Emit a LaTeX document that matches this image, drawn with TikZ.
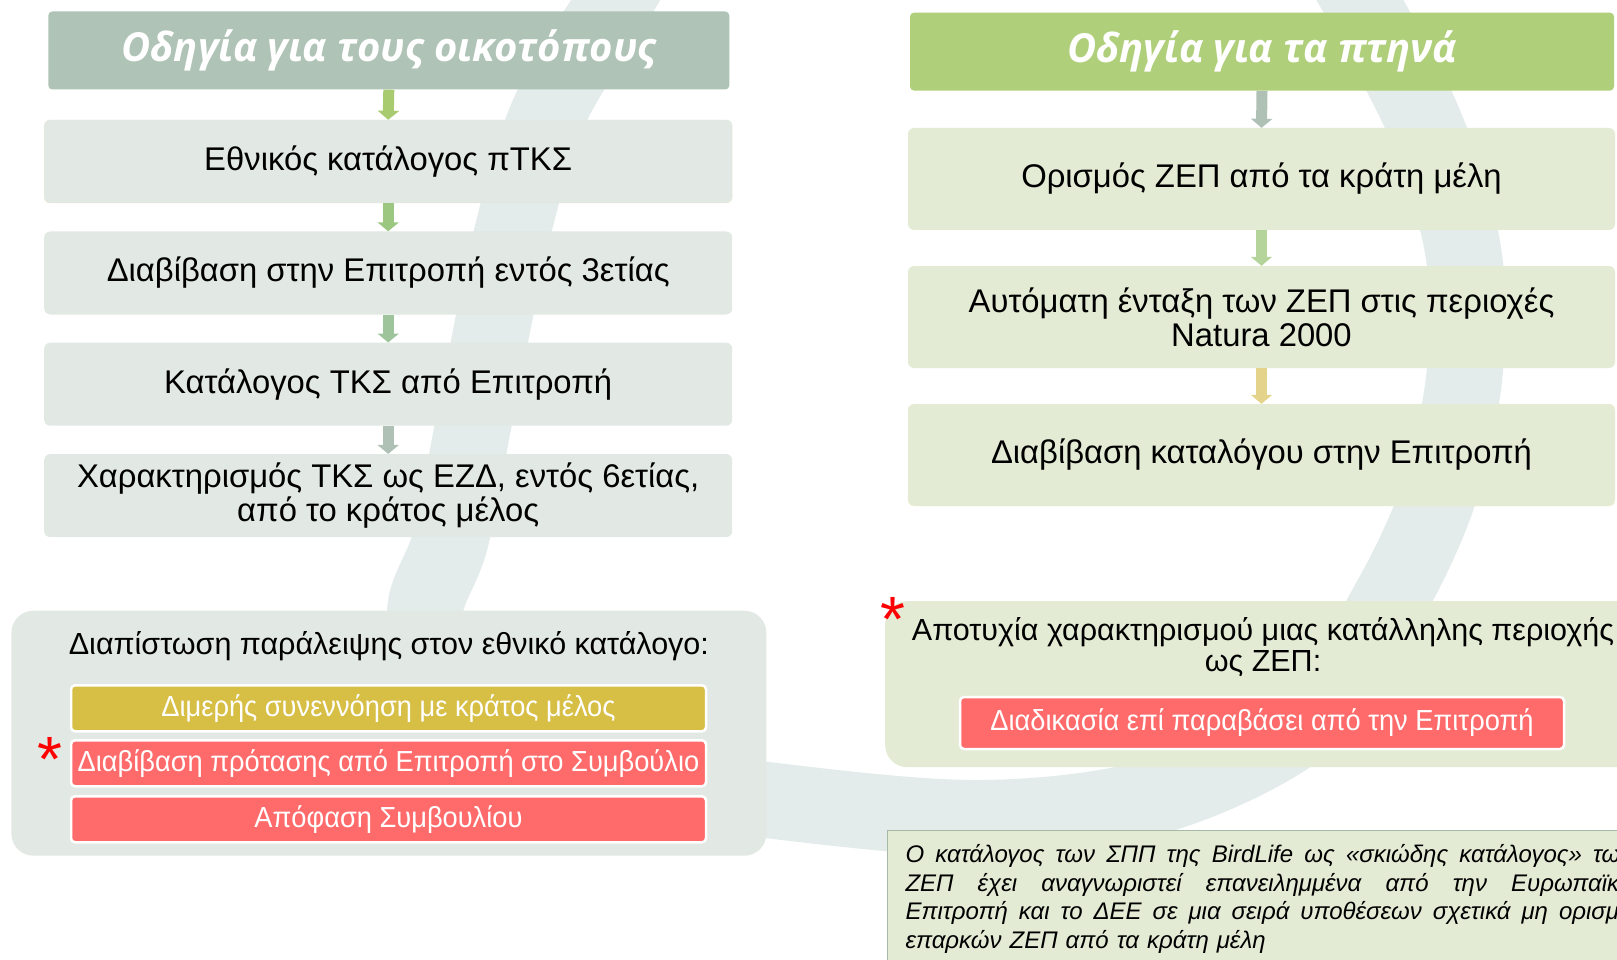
\documentclass[tikz,border=0pt]{standalone}
\usepackage{fontspec}
\setmainfont{Liberation Sans}
\newfontfamily\headfont{Open Sans}
\newfontfamily\barfont[FakeStretch=0.94]{Liberation Sans}
\usepackage{xcolor}
\usepackage{tikz}
\usetikzlibrary{arrows.meta}
\usetikzlibrary{positioning}

\definecolor{ringgrey}{HTML}{E3ECEA}
\definecolor{habtitle}{HTML}{AFC3B6}
\definecolor{habbox}{HTML}{E2E8E3}
\definecolor{birdtitle}{HTML}{B0CF7B}
\definecolor{birdbox}{HTML}{E3EBD5}
\definecolor{baryellow}{HTML}{D7BE45}
\definecolor{barred}{HTML}{FF6B6B}
\definecolor{noteline}{HTML}{A8B8A6}
\definecolor{arrA}{HTML}{A7CB6E}
\definecolor{arrB}{HTML}{9BC780}
\definecolor{arrC}{HTML}{9DC49B}
\definecolor{arrD}{HTML}{AFC0B5}
\definecolor{arrE}{HTML}{B5D49B}
\definecolor{arrF}{HTML}{E4D38A}

\newcommand{\hdsize}{\fontsize{40}{44}\selectfont}
\newcommand{\stepsize}{\fontsize{32.8}{34}\selectfont}
\newcommand{\pansize}{\fontsize{30.5}{31}\selectfont}
\newcommand{\barsz}{\fontsize{29}{32}\selectfont}
\newcommand{\notesz}{\fontsize{24}{28.5}\selectfont}
\newcommand{\starsz}{\fontsize{64}{64}\selectfont}
\newcommand{\noteline}[1]{\makebox[727pt][s]{\spaceskip=0pt\xspaceskip=0pt #1}}

\begin{document}
\begin{tikzpicture}[x=1pt, y=-1pt,
  headbox/.style={rounded corners=4pt, minimum height=78pt, inner sep=0pt, text=white, font=\headfont\bfseries\itshape\hdsize},
  stepbox/.style={rounded corners=6pt, inner sep=0pt, align=center, font=\stepsize},
  panel/.style={rounded corners=22pt, inner sep=0pt},
  bar/.style={draw=white, line width=2.5pt, rounded corners=4pt, inner sep=0pt, minimum height=46pt, text=white, font=\barfont\barsz},
  flow/.style={line width=11pt, -{Triangle[width=21pt,length=9pt]}},
  star/.style={text=red, inner sep=0pt, anchor=base, font=\starsz}]

\useasboundingbox (0,0) rectangle (1617,960);

% background swoosh
\draw [ringgrey, line width=76pt] plot [smooth, tension=0.55] coordinates {(652,-60) (616,0) (550,110) (513,230) (478,400) (451,538) (425,615) (455,700) (565,768) (767,800) (983,818) (1160,795) (1310,720) (1390,600) (1440,490) (1465,370) (1463,250) (1425,125) (1360,0) (1330,-50)};

% habitats

\node [headbox, fill=habtitle, minimum width=681pt] at (388.8, 50.5) (ltitle) {Οδηγία για τους οικοτόπους};
\node [stepbox, fill=habbox, draw=birdbox, minimum width=688pt, minimum height=83pt] at (388.2, 161.5) (lb1) {Εθνικός κατάλογος πΤΚΣ};
\node [stepbox, fill=habbox, minimum width=688pt, minimum height=83pt] at (388.2, 273) (lb2) {Διαβίβαση στην Επιτροπή εντός 3ετίας};
\node [stepbox, fill=habbox, minimum width=688pt, minimum height=83pt] at (388.2, 384.2) (lb3) {Κατάλογος ΤΚΣ από Επιτροπή};
\node [stepbox, fill=habbox, minimum width=688pt, minimum height=83pt] at (388.2, 495.6) (lb4) {Χαρακτηρισμός ΤΚΣ ως ΕΖΔ, εντός 6ετίας,\\ από το κράτος μέλος};

\path [draw, flow, arrA] (ltitle.south) to (lb1.north);
\path [draw, flow, arrB] (lb1.south) to (lb2.north);
\path [draw, flow, arrC] (lb2.south) to (lb3.north);
\path [draw, flow, arrD] (lb3.south) to (lb4.north);

\node [panel, fill=habbox, minimum width=755pt, minimum height=245pt] at (388.9, 733.2) (lpanel) {};
\node [font=\pansize] at (388.9, 646) (lomit) {Διαπίστωση παράλειψης στον εθνικό κατάλογο:};
\node [bar, fill=baryellow, minimum width=635pt] at (388.5, 708.3) (lbar1) {Διμερής συνεννόηση με κράτος μέλος};
\node [bar, fill=barred, minimum width=635pt] at (388.5, 763.3) (lbar2) {Διαβίβαση πρότασης από Επιτροπή στο Συμβούλιο};
\node [bar, fill=barred, minimum width=635pt] at (388.5, 819.3) (lbar3) {Απόφαση Συμβουλίου};
\node [star] at (50, 781) (lstar) {*};

% birds

\node [headbox, fill=birdtitle, minimum width=704pt] at (1262, 51.6) (rtitle) {Οδηγία για τα πτηνά};
\node [stepbox, fill=birdbox, minimum width=707pt, minimum height=102pt] at (1261.5, 179) (rb1) {Ορισμός ΖΕΠ από τα κράτη μέλη};
\node [stepbox, fill=birdbox, minimum width=707pt, minimum height=102pt] at (1261.5, 317) (rb2) {Αυτόματη ένταξη των ΖΕΠ στις περιοχές\\ Natura 2000};
\node [stepbox, fill=birdbox, draw=arrF!35, minimum width=707pt, minimum height=102pt] at (1261.5, 455) (rb3) {Διαβίβαση καταλόγου στην Επιτροπή};

\path [draw, flow, arrD] (rtitle.south) to (rb1.north);
\path [draw, flow, arrE] (rb1.south) to (rb2.north);
\path [draw, flow, arrF] (rb2.south) to (rb3.north);

\node [panel, fill=birdbox, minimum width=760pt, minimum height=166pt, anchor=north west] at (885, 601) (rpanel) {};
\node [font=\pansize, align=center] at (1263, 647) (rfail) {Αποτυχία χαρακτηρισμού μιας κατάλληλης περιοχής\\ ως ΖΕΠ:};
\node [bar, fill=barred, minimum width=604pt, minimum height=52pt] at (1262, 723) (rbar) {Διαδικασία επί παραβάσει από την Επιτροπή};
\node [star] at (893, 641) (rstar) {*};

% note
\node [fill=birdbox, draw=noteline, line width=1pt, anchor=north west, text width=727pt, align=left, inner xsep=18pt, inner ysep=14pt, font=\notesz\itshape] at (887, 830) (note) {\noteline{Ο κατάλογος των ΣΠΠ της BirdLife ως «σκιώδης κατάλογος» των}\\ \noteline{ΖΕΠ έχει αναγνωριστεί επανειλημμένα από την Ευρωπαϊκή}\\ \noteline{Επιτροπή και το ΔΕΕ σε μια σειρά υποθέσεων σχετικά μη ορισμό}\\ επαρκών ΖΕΠ από τα κράτη μέλη};

\end{tikzpicture}
\end{document}
